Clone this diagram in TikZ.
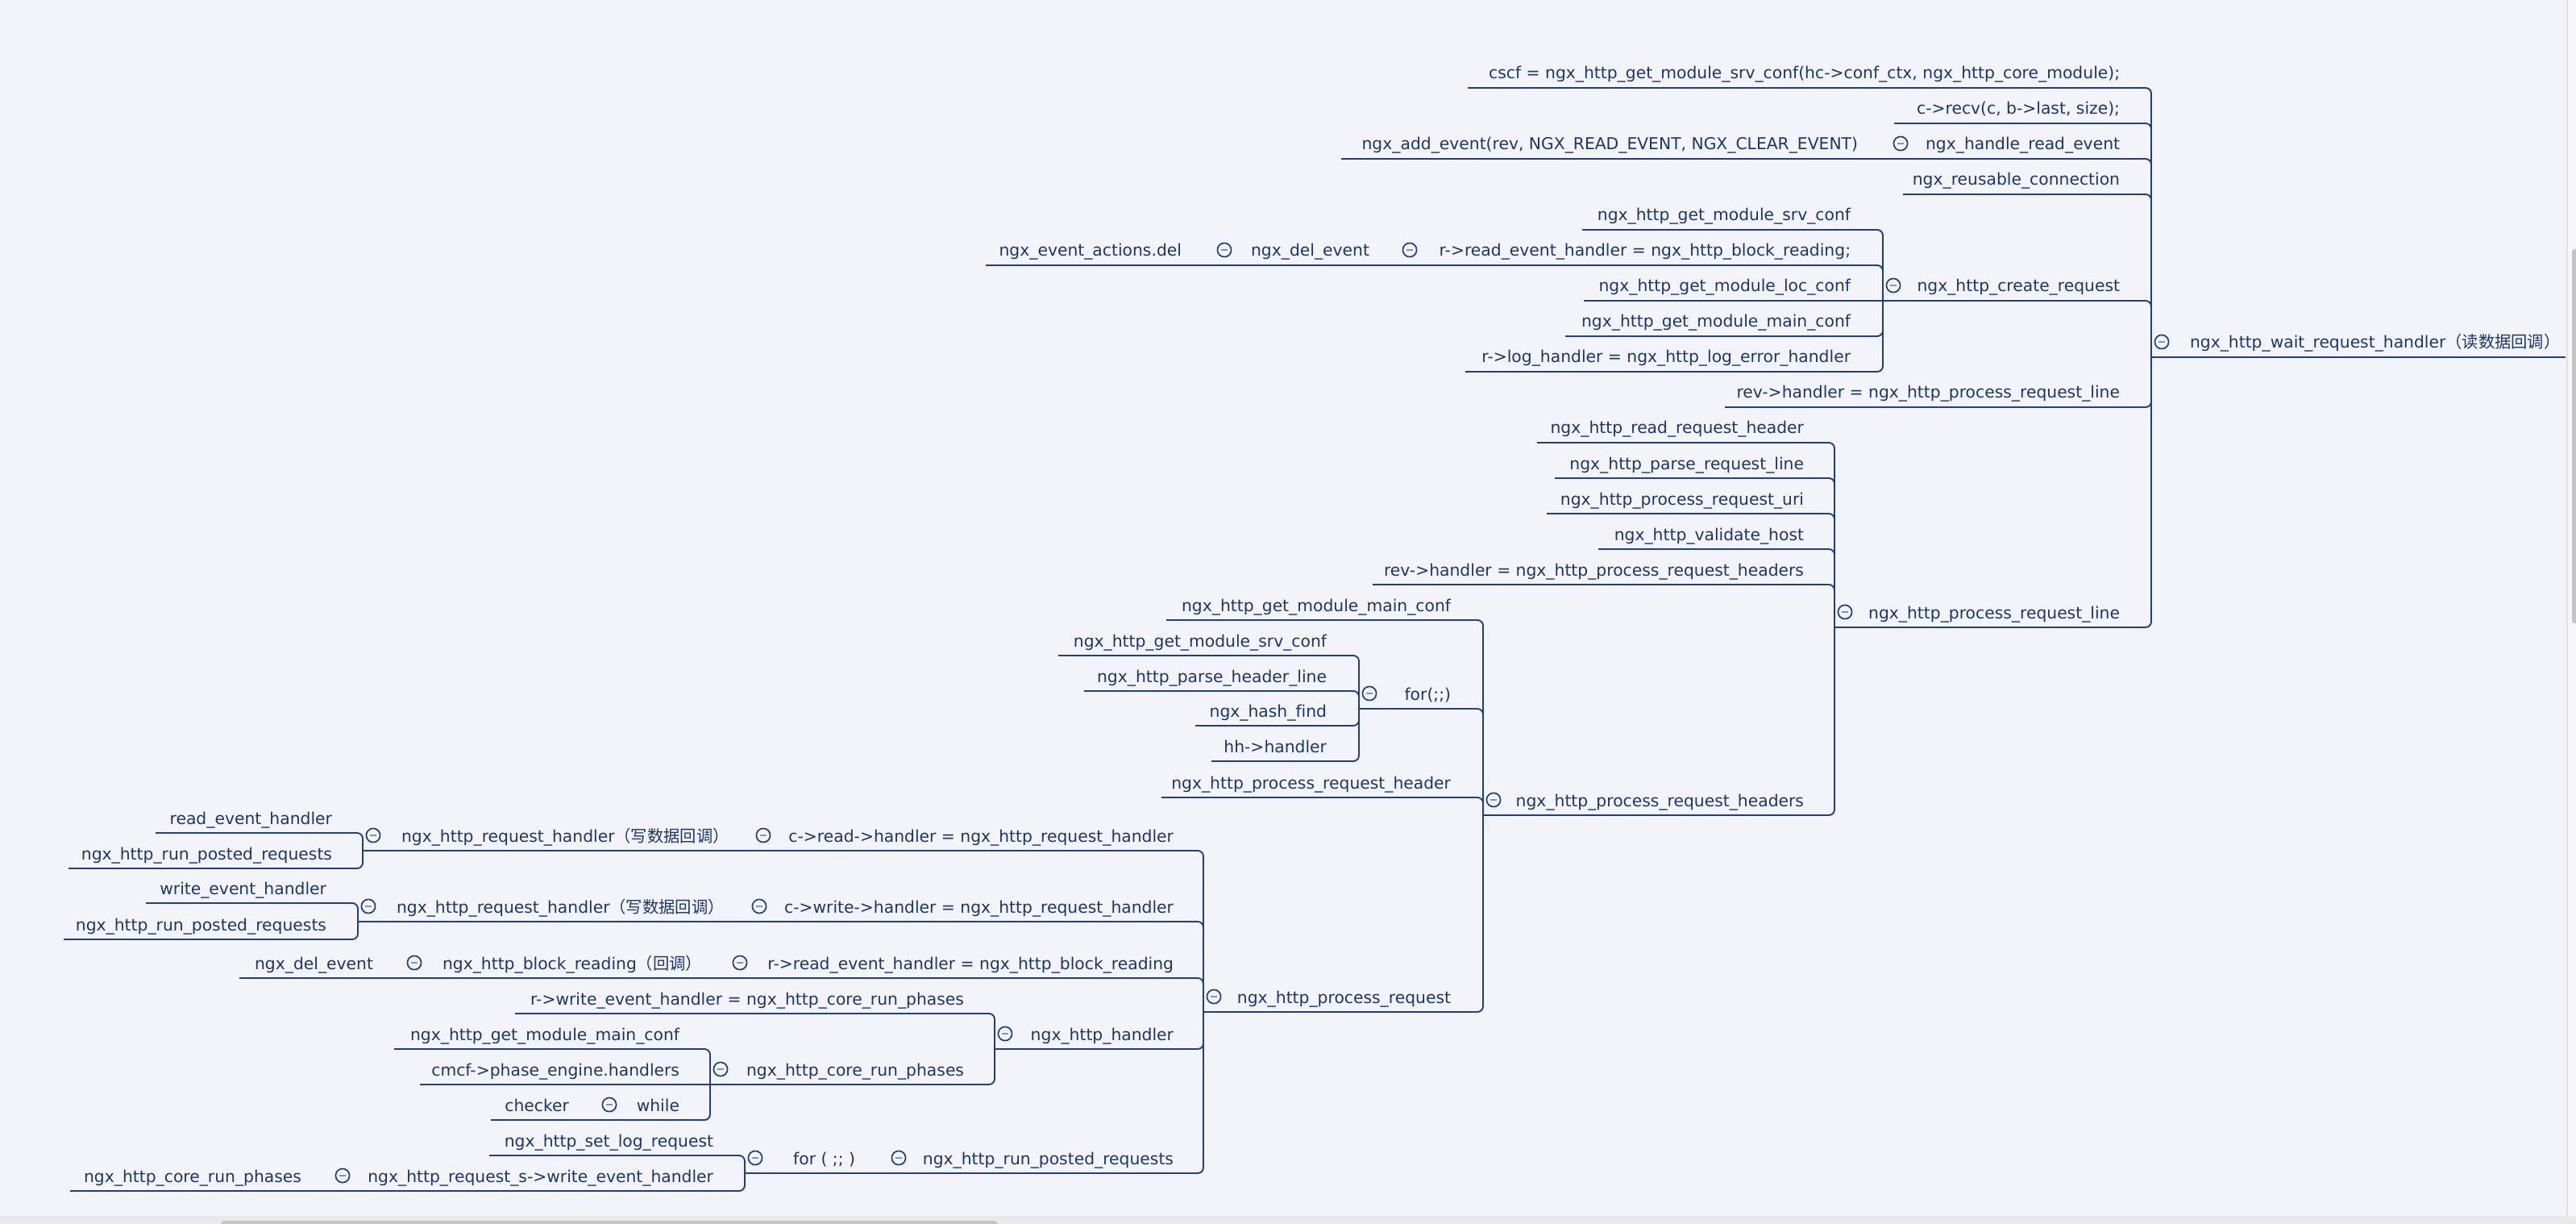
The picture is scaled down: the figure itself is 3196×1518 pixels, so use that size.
\documentclass[tikz,border=0pt]{standalone}
\usepackage{fontspec}
\setmainfont{DejaVu Sans}[Ligatures=NoCommon]
\newfontfamily\cjk{Noto Sans CJK SC}
\definecolor{bgc}{HTML}{F3F4F9}
\definecolor{linec}{HTML}{1E4080}
\definecolor{txtc}{HTML}{1C366A}
\definecolor{minusc}{HTML}{8194B4}
\definecolor{stripc}{HTML}{F7F7F8}
\definecolor{stripl}{HTML}{E2E2E5}
\definecolor{bandc}{HTML}{E9E9EC}
\definecolor{scrollc}{HTML}{C4C4C6}
\newcommand\mmfont{\fontsize{10.15pt}{12pt}\selectfont}
\pgfdeclarelayer{back}
\pgfdeclarelayer{conns}
\pgfsetlayers{back,conns,main}
\tikzset{
  conn/.style={draw=linec, line width=0.95pt, rounded corners=3.5pt},
  lbl/.style={text=txtc, font=\mmfont, anchor=base east, inner sep=0pt, outer sep=0pt},
  lblw/.style={lbl, anchor=base west},
  foldc/.style={circle, draw=linec, line width=0.85pt, fill=bgc, minimum size=8.6pt, inner sep=0pt,
    path picture={\draw[minusc, line width=1pt] ([xshift=-1.9pt]path picture bounding box.center) -- ([xshift=1.9pt]path picture bounding box.center);}},
}
\newcommand\mmleaf[5]{\coordinate (#1-l) at (#2,#4); \node[lbl] (#1) at (#3,#4-11) {#5};}
\newcommand\mmfold[5]{\coordinate (#1-l) at (#2,#4); \node[foldc] (#1-c) at (#2+13,#4-19) {}; \node[lbl] (#1) at (#3,#4-11) {#5};}
\newcommand\mmfoldw[4]{\coordinate (#1-l) at (#2,#3); \node[foldc] (#1-c) at (#2+13,#3-19) {}; \node[lblw] (#1) at (#2+48,#3-11) {#4};}
\begin{document}
\begin{tikzpicture}[x=0.5pt,y=-0.5pt]
\useasboundingbox (0,0) rectangle (3196,1518);
\begin{pgfonlayer}{back}
\fill[bgc] (0,0) rectangle (3196,1518);
\fill[stripc] (3185,0) rectangle (3196,1508);
\draw[stripl, line width=0.6pt] (3185,0) -- (3185,1508);
\fill[scrollc, rounded corners=1.5pt] (3191,309) rectangle (3199,773);
\fill[bandc] (0,1508) rectangle (3196,1518);
\fill[scrollc, rounded corners=1.5pt] (275,1514) rectangle (1237,1522);
\end{pgfonlayer}
% root
\mmfoldw{R}{2669}{443}{ngx\_http\_wait\_request\_handler{\cjk （读数据回调）}}
\coordinate (R-r) at (3183,443);
% root children
\mmleaf{A1}{1821}{2630}{109}{cscf = ngx\_http\_get\_module\_srv\_conf(hc->conf\_ctx, ngx\_http\_core\_module);}
\mmleaf{A2}{2350}{2630}{153}{c->recv(c, b->last, size);}
\mmfold{A3}{2345}{2630}{197}{ngx\_handle\_read\_event}
\mmleaf{A3a}{1664}{2305}{197}{ngx\_add\_event(rev, NGX\_READ\_EVENT, NGX\_CLEAR\_EVENT)}
\mmleaf{A4}{2361}{2630}{241}{ngx\_reusable\_connection}
\mmfold{A5}{2336}{2630}{373}{ngx\_http\_create\_request}
\mmleaf{A5a}{1963}{2296}{285}{ngx\_http\_get\_module\_srv\_conf}
\mmfold{A5b}{1736}{2296}{329}{r->read\_event\_handler = ngx\_http\_block\_reading;}
\mmfold{A5b1}{1506}{1699}{329}{ngx\_del\_event}
\mmleaf{A5b1a}{1223}{1466}{329}{ngx\_event\_actions.del}
\mmleaf{A5c}{1965}{2296}{373}{ngx\_http\_get\_module\_loc\_conf}
\mmleaf{A5d}{1942}{2296}{417}{ngx\_http\_get\_module\_main\_conf}
\mmleaf{A5e}{1818}{2296}{461}{r->log\_handler = ngx\_http\_log\_error\_handler}
\mmleaf{A6}{2140}{2630}{505}{rev->handler = ngx\_http\_process\_request\_line}
\mmfold{A7}{2276}{2630}{778}{ngx\_http\_process\_request\_line}
\mmleaf{A7a}{1907}{2238}{549}{ngx\_http\_read\_request\_header}
\mmleaf{A7b}{1929}{2238}{593}{ngx\_http\_parse\_request\_line}
\mmleaf{A7c}{1919}{2238}{637}{ngx\_http\_process\_request\_uri}
\mmleaf{A7d}{1983}{2238}{681}{ngx\_http\_validate\_host}
\mmleaf{A7e}{1703}{2238}{725}{rev->handler = ngx\_http\_process\_request\_headers}
\mmfold{A7f}{1840}{2238}{1011}{ngx\_http\_process\_request\_headers}
\mmleaf{B1}{1447}{1800}{769}{ngx\_http\_get\_module\_main\_conf}
\mmfold{B2}{1686}{1800}{879}{for(;;)}
\mmleaf{B2a}{1313}{1646}{813}{ngx\_http\_get\_module\_srv\_conf}
\mmleaf{B2b}{1345}{1646}{857}{ngx\_http\_parse\_header\_line}
\mmleaf{B2c}{1483}{1646}{900}{ngx\_hash\_find}
\mmleaf{B2d}{1503}{1646}{944}{hh->handler}
\mmleaf{B3}{1441}{1800}{989}{ngx\_http\_process\_request\_header}
\mmfold{B4}{1493}{1800}{1255}{ngx\_http\_process\_request}
\mmfold{C1}{934}{1456}{1055}{c->read->handler = ngx\_http\_request\_handler}
\mmfoldw{C1a}{450}{1055}{ngx\_http\_request\_handler{\cjk （写数据回调）}}
\mmleaf{C1a1}{193}{412}{1033}{read\_event\_handler}
\mmleaf{C1a2}{85}{412}{1077}{ngx\_http\_run\_posted\_requests}
\mmfold{C2}{929}{1456}{1143}{c->write->handler = ngx\_http\_request\_handler}
\mmfoldw{C2a}{444}{1143}{ngx\_http\_request\_handler{\cjk （写数据回调）}}
\mmleaf{C2a1}{181}{405}{1120}{write\_event\_handler}
\mmleaf{C2a2}{79}{405}{1165}{ngx\_http\_run\_posted\_requests}
\mmfold{C3}{905}{1456}{1213}{r->read\_event\_handler = ngx\_http\_block\_reading}
\mmfoldw{C3a}{501}{1213}{ngx\_http\_block\_reading{\cjk （回调）}}
\mmleaf{C3a1}{297}{463}{1213}{ngx\_del\_event}
\mmfold{C4}{1234}{1456}{1301}{ngx\_http\_handler}
\mmleaf{C4a}{639}{1196}{1257}{r->write\_event\_handler = ngx\_http\_core\_run\_phases}
\mmfold{C4b}{881}{1196}{1345}{ngx\_http\_core\_run\_phases}
\mmleaf{C4b1}{489}{843}{1301}{ngx\_http\_get\_module\_main\_conf}
\mmleaf{C4b2}{521}{843}{1345}{cmcf->phase\_engine.handlers}
\mmfold{C4b3}{743}{843}{1389}{while}
\mmleaf{C4b3a}{609}{706}{1389}{checker}
\mmfold{C5}{1102}{1456}{1455}{ngx\_http\_run\_posted\_requests}
\mmfold{C5a}{924}{1061}{1455}{for ( ;; )}
\mmleaf{C5a1}{607}{885}{1433}{ngx\_http\_set\_log\_request}
\mmfold{C5a2}{412}{885}{1477}{ngx\_http\_request\_s->write\_event\_handler}
\mmleaf{C5a2a}{87}{374}{1477}{ngx\_http\_core\_run\_phases}
\begin{pgfonlayer}{conns}
\draw[conn] (R-l) -- (R-r);
% children at a different height: bracket with a rounded corner
\foreach \c/\p in {A1/R,A2/R,A3/R,A4/R,A5/R,A6/R,A7/R,
  A5a/A5,A5b/A5,A5d/A5,A5e/A5,
  A7a/A7,A7b/A7,A7c/A7,A7d/A7,A7e/A7,A7f/A7,
  B1/A7f,B2/A7f,B3/A7f,B4/A7f,B2a/B2,B2b/B2,B2c/B2,B2d/B2,
  C1/B4,C2/B4,C3/B4,C4/B4,C5/B4,
  C1a1/C1a,C1a2/C1a,C2a1/C2a,C2a2/C2a,
  C4a/C4,C4b/C4,C4b1/C4b,C4b3/C4b,
  C5a1/C5a,C5a2/C5a}
  \draw[conn] (\c-l) -| (\p-l);
% children at the same height as the parent: straight line
\foreach \c/\p in {A3a/A3,A5c/A5,A5b1/A5b,A5b1a/A5b1,
  C1a/C1,C2a/C2,C3a/C3,C3a1/C3a,C4b2/C4b,C4b3a/C4b3,C5a/C5,C5a2a/C5a2}
  \draw[draw=linec, line width=0.95pt] (\c-l) -- (\p-l);
\end{pgfonlayer}
\end{tikzpicture}
\end{document}
